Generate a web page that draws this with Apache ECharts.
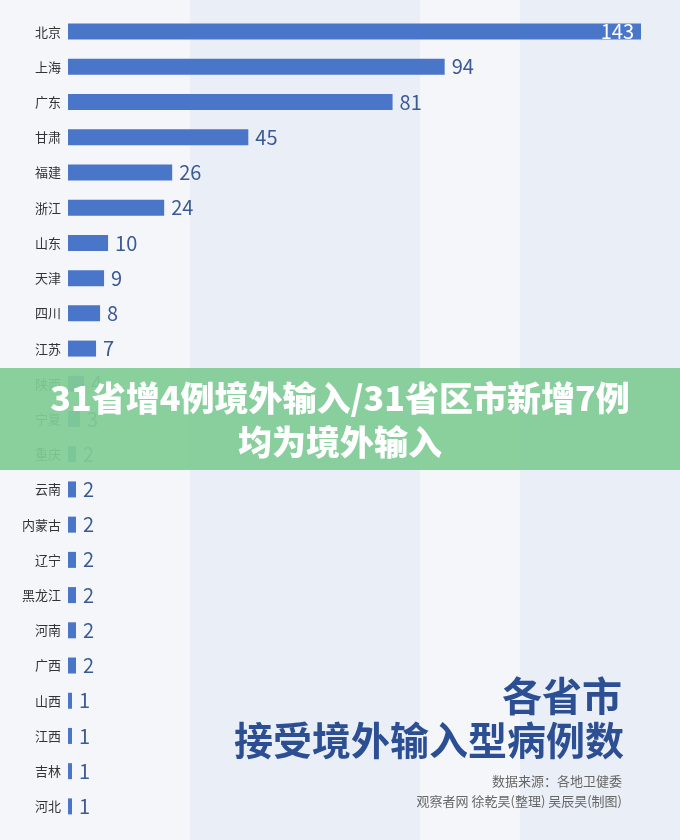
<!DOCTYPE html>
<html><head><meta charset="utf-8">
<script src="https://cdn.jsdelivr.net/npm/echarts@6/dist/echarts.min.js"></script>
<style>html,body{margin:0;padding:0}#c{width:680px;height:840px}</style></head>
<body><div id="c"></div>
<script>
const provinces = ['北京','上海','广东','甘肃','福建','浙江','山东','天津','四川','江苏','陕西','宁夏','重庆','云南','内蒙古','辽宁','黑龙江','河南','广西','山西','江西','吉林','河北'];
const cases = [143,94,81,45,26,24,10,9,8,7,4,3,2,2,2,2,2,2,2,1,1,1,1];
const titleLines = ['各省市','接受境外输入型病例数'];
const sourceLines = ['数据来源：各地卫健委','观察者网 徐乾昊(整理) 吴辰昊(制图)'];
const bannerLines = ['31省增4例境外输入/31省区市新增7例','均为境外输入'];
const font = '"Noto Sans CJK SC", sans-serif';
const chart = echarts.init(document.getElementById('c'));
chart.setOption({
  backgroundColor: '#f4f6fa',
  animation: false,
  grid: {left: 68, right: 39, top: 14, bottom: 16},
  xAxis: {type: 'value', min: 0, max: 143, show: false},
  yAxis: {type: 'category', data: provinces, inverse: true,
    axisLine: {show: false}, axisTick: {show: false},
    axisLabel: {color: '#333', fontSize: 13, fontFamily: font, margin: 7}},
  graphic: [
    {type: 'rect', z: -10, shape: {x: 190, y: 0, width: 230, height: 840}, style: {fill: '#eaeef6'}},
    {type: 'rect', z: -10, shape: {x: 520, y: 0, width: 160, height: 840}, style: {fill: '#eaeef6'}},
    {type: 'text', right: 58, top: 676, style: {text: titleLines[0], font: 'bold 40px ' + font, fill: '#2c4f93', textAlign: 'right'}},
    {type: 'text', left: 234, top: 721, style: {text: titleLines[1], font: 'bold 39px ' + font, fill: '#2c4f93'}},
    {type: 'text', right: 58, top: 775, style: {text: sourceLines[0], font: '13px ' + font, fill: '#666', textAlign: 'right'}},
    {type: 'text', right: 58, top: 795, style: {text: sourceLines[1], font: '13px ' + font, fill: '#666', textAlign: 'right'}},
    {type: 'rect', z: 50, shape: {x: 0, y: 368, width: 680, height: 102}, style: {fill: 'rgba(128,204,150,0.93)'}},
    {type: 'text', z: 51, left: 'center', top: 376, style: {text: bannerLines.join('\n'), font: '900 34px ' + font, fill: '#fff', textAlign: 'center', lineHeight: 44}}
  ],
  series: [{
    type: 'bar', barWidth: 16,
    data: cases.map((v, i) => i === 0 ? {value: v, label: {position: 'insideRight', color: '#fff'}} : v),
    itemStyle: {color: '#4a76c9'},
    label: {show: true, position: 'right', color: '#3a5a96', fontSize: 20, fontFamily: font, distance: 7}
  }]
});
</script></body></html>
